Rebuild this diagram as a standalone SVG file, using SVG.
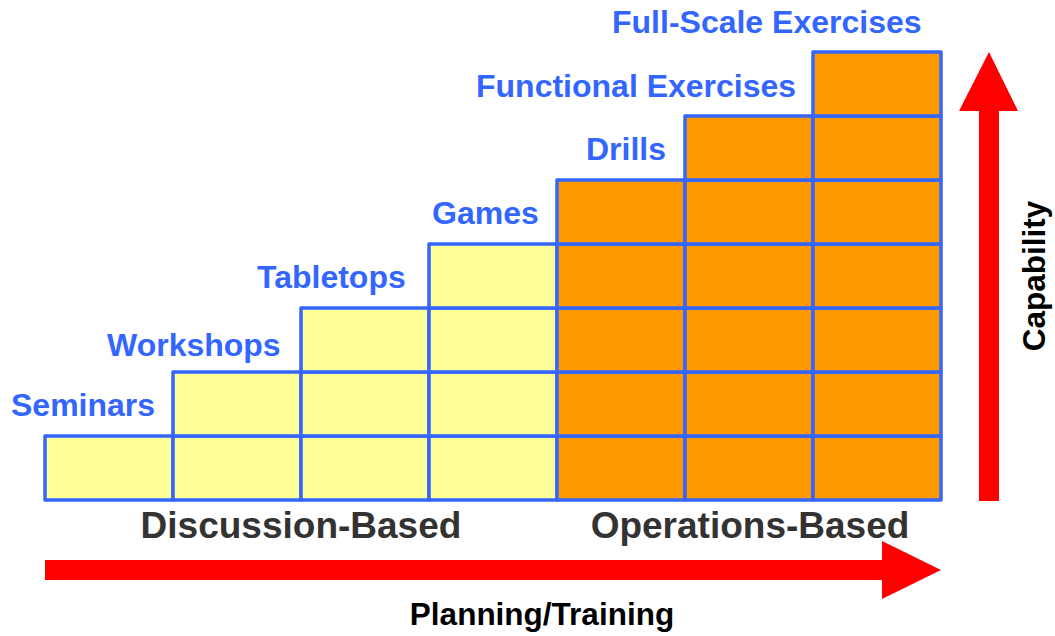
<svg xmlns="http://www.w3.org/2000/svg" width="1055" height="636" viewBox="0 0 1055 636">
<style>
.c{stroke:#3366FF;stroke-width:3.5;stroke-linejoin:round}
.y{fill:#FFFF99}
.o{fill:#FF9900}
.lb{font-family:"Liberation Sans",Arial,sans-serif;font-weight:bold;font-size:32px;fill:#3366FF}
.cat{font-family:"Liberation Sans",Arial,sans-serif;font-weight:bold;font-size:37px;fill:#333333;text-anchor:middle}
.ax{font-family:"Liberation Sans",Arial,sans-serif;font-weight:bold;font-size:31.5px;fill:#000000;text-anchor:middle}
.arr{fill:#FF0000}
</style>
<rect width="1055" height="636" fill="#FFFFFF"/>
<g id="seminars">
<rect class="c y" x="45" y="436" width="128" height="64"/>
<text class="lb" x="11" y="416">Seminars</text>
</g>
<g id="workshops">
<rect class="c y" x="173" y="436" width="128" height="64"/>
<rect class="c y" x="173" y="372" width="128" height="64"/>
<text class="lb" x="107" y="356">Workshops</text>
</g>
<g id="tabletops">
<rect class="c y" x="301" y="436" width="128" height="64"/>
<rect class="c y" x="301" y="372" width="128" height="64"/>
<rect class="c y" x="301" y="308" width="128" height="64"/>
<text class="lb" x="257" y="288">Tabletops</text>
</g>
<g id="games">
<rect class="c y" x="429" y="436" width="128" height="64"/>
<rect class="c y" x="429" y="372" width="128" height="64"/>
<rect class="c y" x="429" y="308" width="128" height="64"/>
<rect class="c y" x="429" y="244" width="128" height="64"/>
<text class="lb" x="432" y="224">Games</text>
</g>
<g id="drills">
<rect class="c o" x="557" y="436" width="128" height="64"/>
<rect class="c o" x="557" y="372" width="128" height="64"/>
<rect class="c o" x="557" y="308" width="128" height="64"/>
<rect class="c o" x="557" y="244" width="128" height="64"/>
<rect class="c o" x="557" y="180" width="128" height="64"/>
<text class="lb" x="586" y="160">Drills</text>
</g>
<g id="functional-exercises">
<rect class="c o" x="685" y="436" width="128" height="64"/>
<rect class="c o" x="685" y="372" width="128" height="64"/>
<rect class="c o" x="685" y="308" width="128" height="64"/>
<rect class="c o" x="685" y="244" width="128" height="64"/>
<rect class="c o" x="685" y="180" width="128" height="64"/>
<rect class="c o" x="685" y="116" width="128" height="64"/>
<text class="lb" x="476" y="97">Functional Exercises</text>
</g>
<g id="full-scale-exercises">
<rect class="c o" x="813" y="436" width="128" height="64"/>
<rect class="c o" x="813" y="372" width="128" height="64"/>
<rect class="c o" x="813" y="308" width="128" height="64"/>
<rect class="c o" x="813" y="244" width="128" height="64"/>
<rect class="c o" x="813" y="180" width="128" height="64"/>
<rect class="c o" x="813" y="116" width="128" height="64"/>
<rect class="c o" x="813" y="52" width="128" height="64"/>
<text class="lb" x="612" y="33">Full-Scale Exercises</text>
</g>
<g id="discussion-based">
<text class="cat" x="301" y="538">Discussion-Based</text>
</g>
<g id="operations-based">
<text class="cat" x="750" y="538">Operations-Based</text>
</g>
<g id="connectors">
<polygon class="arr" points="45,560 882,560 882,541 941,570 882,599 882,580 45,580"/>
<polygon class="arr" points="979,501 979,111 959,111 989,52 1018,111 999,111 999,501"/>
</g>
<g id="planning-training">
<text class="ax" x="542" y="625">Planning/Training</text>
</g>
<g id="capability">
<text class="ax" transform="translate(1045,276) rotate(-90)" x="0" y="0">Capability</text>
</g>
</svg>
